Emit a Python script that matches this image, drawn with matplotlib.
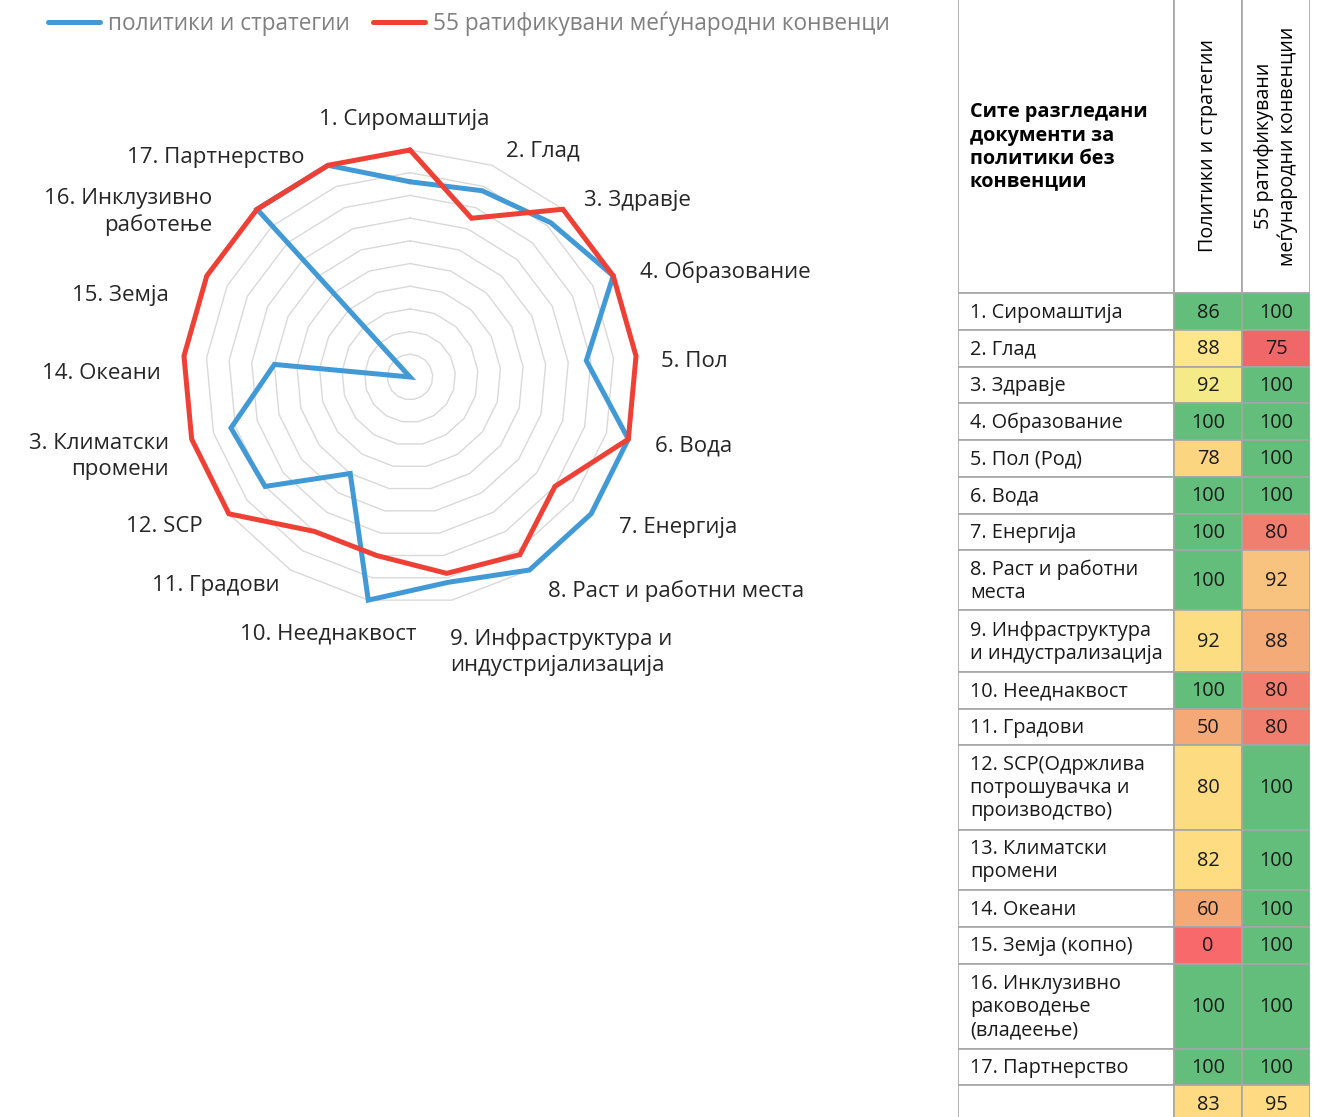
import numpy as np
import matplotlib.pyplot as plt
from matplotlib.patches import Rectangle
from matplotlib.transforms import Bbox, TransformedBbox

plt.rcParams['font.family'] = ['Open Sans', 'DejaVu Sans']

# податоци за радарот
oznaki = ['1. Сиромаштија', '2. Глад', '3. Здравје', '4. Образование', '5. Пол',
          '6. Вода', '7. Енергија', '8. Раст и работни места',
          '9. Инфраструктура и\nиндустријализација', '10. Нееднаквост',
          '11. Градови', '12. SCP', '3. Климатски\nпромени', '14. Океани',
          '15. Земја', '16. Инклузивно\nработење', '17. Партнерство']
politiki = [86, 88, 92, 100, 78, 100, 100, 100, 92, 100, 50, 80, 82, 60, 0, 100, 100]
konvencii = [100, 75, 100, 100, 100, 100, 80, 92, 88, 80, 80, 100, 100, 100, 100, 100, 100]
prosek = [83, 95]

# податоци за табелата
redovi = ['1. Сиромаштија', '2. Глад', '3. Здравје', '4. Образование',
          '5. Пол (Род)', '6. Вода', '7. Енергија', '8. Раст и работни\nместа',
          '9. Инфраструктура\nи индустрализација', '10. Нееднаквост',
          '11. Градови', '12. SCP(Одржлива\nпотрошувачка и\nпроизводство)',
          '13. Климатски\nпромени', '14. Океани', '15. Земја (копно)',
          '16. Инклузивно\nраководење\n(владеење)', '17. Партнерство']
serii = ['политики и стратегии', '55 ратификувани меѓународни конвенции']
zaglavje = 'Сите разгледани\nдокументи за\nполитики без\nконвенции'
kolona_naslovi = ['Политики и стратегии', '55 ратификувани\nмеѓународни конвенции']

# бои на ќелиите (условно форматирање)
G = '#63be7b'
boi_pol = [G, '#fee78a', '#f4ea88', G, '#fcd580', G, G, G, '#fddd82', G,
           '#f4a977', '#fcdb81', '#fddc82', '#f5aa76', '#f8696b', G, G]
boi_konv = [G, '#f0676a', G, G, G, G, '#f17f70', '#f8c37e', '#f4ab78', '#f17f70',
            '#f17f70', G, G, G, G, G, G]
boi_prosek = ['#feda82', '#fedb82']

# поместување на ознаките од врвот на оската (пиксели) и порамнување
pomest = [(-6, -30), (14, -14), (21, -9), (27, -4), (25, 5), (27, 7), (28, 14),
          (18, 21), (-2, 52), (-40, 34), (-11, 16), (-26, 13), (-23, 17),
          (-23, 17), (-38, 20), (-45, 3), (-23, -8)]
poramn = ['center'] + ['left'] * 8 + ['center'] + ['right'] * 7

W, H = 1335, 1117
fig = plt.figure(figsize=(W / 100, H / 100), dpi=100)

# радар
cx, cy, R = 410 / W, 1 - 377 / H, 227
ax = fig.add_axes([cx - R / W, cy - R / H, 2 * R / W, 2 * R / H], projection='polar')
ax.set_theta_zero_location('N')
ax.set_theta_direction(-1)
ax.set_ylim(0, 100)
ax.grid(False)
ax.set_xticks([])
ax.set_yticks([])
ax.spines['polar'].set_visible(False)
ax.patch.set_alpha(0)

n = len(oznaki)
agli = np.linspace(0, 2 * np.pi, n, endpoint=False)
agli_z = np.append(agli, agli[0])

for r in range(10, 101, 10):
    ax.plot(agli_z, [r] * (n + 1), color='#d9d9d9', lw=1, zorder=1, clip_on=False)

ax.plot(agli_z, politiki + politiki[:1], color='#419ad6', lw=3.6, zorder=3,
        clip_on=False, solid_joinstyle='miter', solid_capstyle='round', label=serii[0])
ax.plot(agli_z, konvencii + konvencii[:1], color='#ee4035', lw=3.6, zorder=4,
        clip_on=False, solid_joinstyle='miter', solid_capstyle='round', label=serii[1])

for a, t, (dx, dy), ha in zip(agli, oznaki, pomest, poramn):
    ax.annotate(t, xy=(a, 100), xytext=(dx, -dy), textcoords='offset pixels',
                ha=ha, va='center', fontsize=16, color='#262626',
                multialignment='right' if ha == 'right' else 'left',
                linespacing=1.3, annotation_clip=False)

leg = fig.legend(loc='upper left', bbox_to_anchor=(39 / W, 1 - 2 / H), ncol=2,
                 frameon=False, fontsize=16.3, labelcolor='#808080',
                 borderaxespad=0, handlelength=2.3, handletextpad=0.35,
                 columnspacing=1.0)
clip = TransformedBbox(Bbox([[0, 0], [890 / W, 1]]), fig.transFigure)
for t in leg.get_texts():
    t.set_clip_box(clip)
    t.set_clip_on(True)

# табела
x0, x1 = 958, 1310
tx = fig.add_axes([x0 / W, 0, (x1 - x0) / W, 1])
tx.set_xlim(0, x1 - x0)
tx.set_ylim(H, 0)
tx.axis('off')

kol = [0, 216, 284, 352]
visini = [36.7] * 7 + [60, 61.7, 36.7, 36.7, 84.3, 60.7, 36.7, 36.7, 85, 36.7, 36.7]
glava = 293.3
rabovi = np.concatenate([[glava], glava + np.cumsum(visini)])
rab = dict(edgecolor='#a6a6a6', lw=1.2, clip_on=True)

# заглавје
for i in range(3):
    tx.add_patch(Rectangle((kol[i], -10), kol[i + 1] - kol[i], glava + 10,
                           facecolor='white', **rab))
tx.text(12, 147, zaglavje, ha='left', va='center', fontsize=14.3, fontweight='bold',
        color='black', linespacing=1.2)
for i, t in enumerate(kolona_naslovi):
    tx.text((kol[i + 1] + kol[i + 2]) / 2, 146, t, rotation=90, ha='center',
            va='center', fontsize=14.2, color='black', multialignment='center',
            linespacing=1.2)

vrednosti = list(zip(politiki, konvencii)) + [tuple(prosek)]
boi = list(zip(boi_pol, boi_konv)) + [tuple(boi_prosek)]
iminja = redovi + ['']
for j in range(len(vrednosti)):
    y0, y1 = rabovi[j], rabovi[j + 1]
    ym = (y0 + y1) / 2
    tx.add_patch(Rectangle((kol[0], y0), kol[1] - kol[0], y1 - y0,
                           facecolor='white', **rab))
    tx.text(12, ym + 1, iminja[j], ha='left', va='center', fontsize=14.3,
            color='#1a1a1a', linespacing=1.2)
    for i in range(2):
        tx.add_patch(Rectangle((kol[i + 1], y0), kol[i + 2] - kol[i + 1], y1 - y0,
                               facecolor=boi[j][i], **rab))
        tx.text((kol[i + 1] + kol[i + 2]) / 2, ym + 1, str(vrednosti[j][i]),
                ha='center', va='center', fontsize=14.3, color='#1a1a1a')

fig.savefig('out.png', dpi=100)
